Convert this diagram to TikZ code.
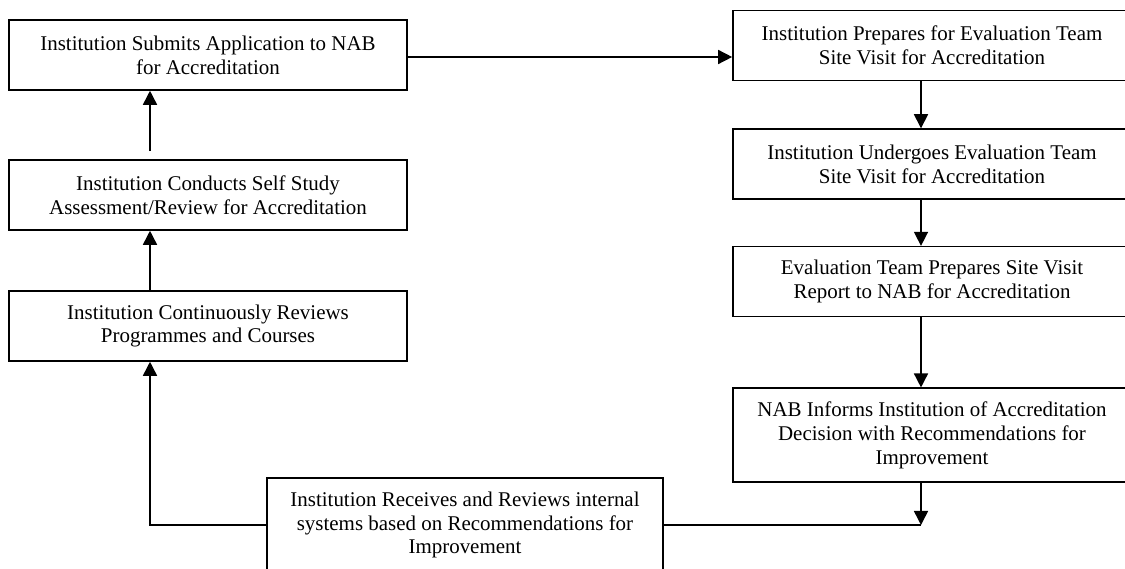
\documentclass[tikz,border=0pt]{standalone}
\usepackage{fontspec}
\setmainfont{Liberation Serif}
\usetikzlibrary{arrows.meta}
\usetikzlibrary{positioning}

\begin{document}
\begin{tikzpicture}[x=0.025cm, y=-0.025cm,
    stage/.style={draw, line width=1.1pt, align=center, minimum width=9.95cm, minimum height=1.75cm, inner sep=2pt, font=\fontsize{14.9}{17}\selectfont},
    tall/.style={minimum height=2.35cm},
    flow/.style={line width=1.1pt, -{Triangle[length=10pt,width=10pt]}}]
			\useasboundingbox (0,0) rectangle (1125,569);

			% left column
			\node[stage] (submit) at (208,55) {Institution Submits Application to NAB\\for Accreditation};
			\node[stage] (selfstudy) at (208,195) {Institution Conducts Self Study\\Assessment/Review for Accreditation};
			\node[stage] (review) at (208,326) {Institution Continuously Reviews\\Programmes and Courses};

			% right column
			\node[stage] (prepare) at (932,45.5) {Institution Prepares for Evaluation Team\\Site Visit for Accreditation};
			\node[stage, below=1.175cm of prepare] (visit) {Institution Undergoes Evaluation Team\\Site Visit for Accreditation};
			\node[stage, below=1.15cm of visit] (report) {Evaluation Team Prepares Site Visit\\Report to NAB for Accreditation};
			\node[stage, tall, below=1.75cm of report] (decision) {NAB Informs Institution of Accreditation\\Decision with Recommendations for\\Improvement};

			% bottom
			\node[stage, tall, minimum width=9.9cm] (receive) at (465,525) {Institution Receives and Reviews internal\\systems based on Recommendations for\\Improvement};

			\coordinate (lx) at (150,0);
			\coordinate (rx) at (921,0);
			\coordinate (ay) at (0,57);

			\draw[flow] (review.north -| lx) -- (selfstudy.south -| lx);
			\draw[flow, shorten <=0.2cm] (selfstudy.north -| lx) -- (submit.south -| lx);
			\draw[flow] (submit.east |- ay) -- (prepare.west |- ay);
			\draw[flow] (prepare.south -| rx) -- (visit.north -| rx);
			\draw[flow] (visit.south -| rx) -- (report.north -| rx);
			\draw[flow] (report.south -| rx) -- (decision.north -| rx);
			\draw[flow] (decision.south -| rx) -- (rx |- receive.east);
			\draw[line width=1.1pt] (receive.east) -- (rx |- receive.east);
			\draw[flow] (receive.west) -- (lx |- receive.west) -- (review.south -| lx);
		\end{tikzpicture}
\end{document}
